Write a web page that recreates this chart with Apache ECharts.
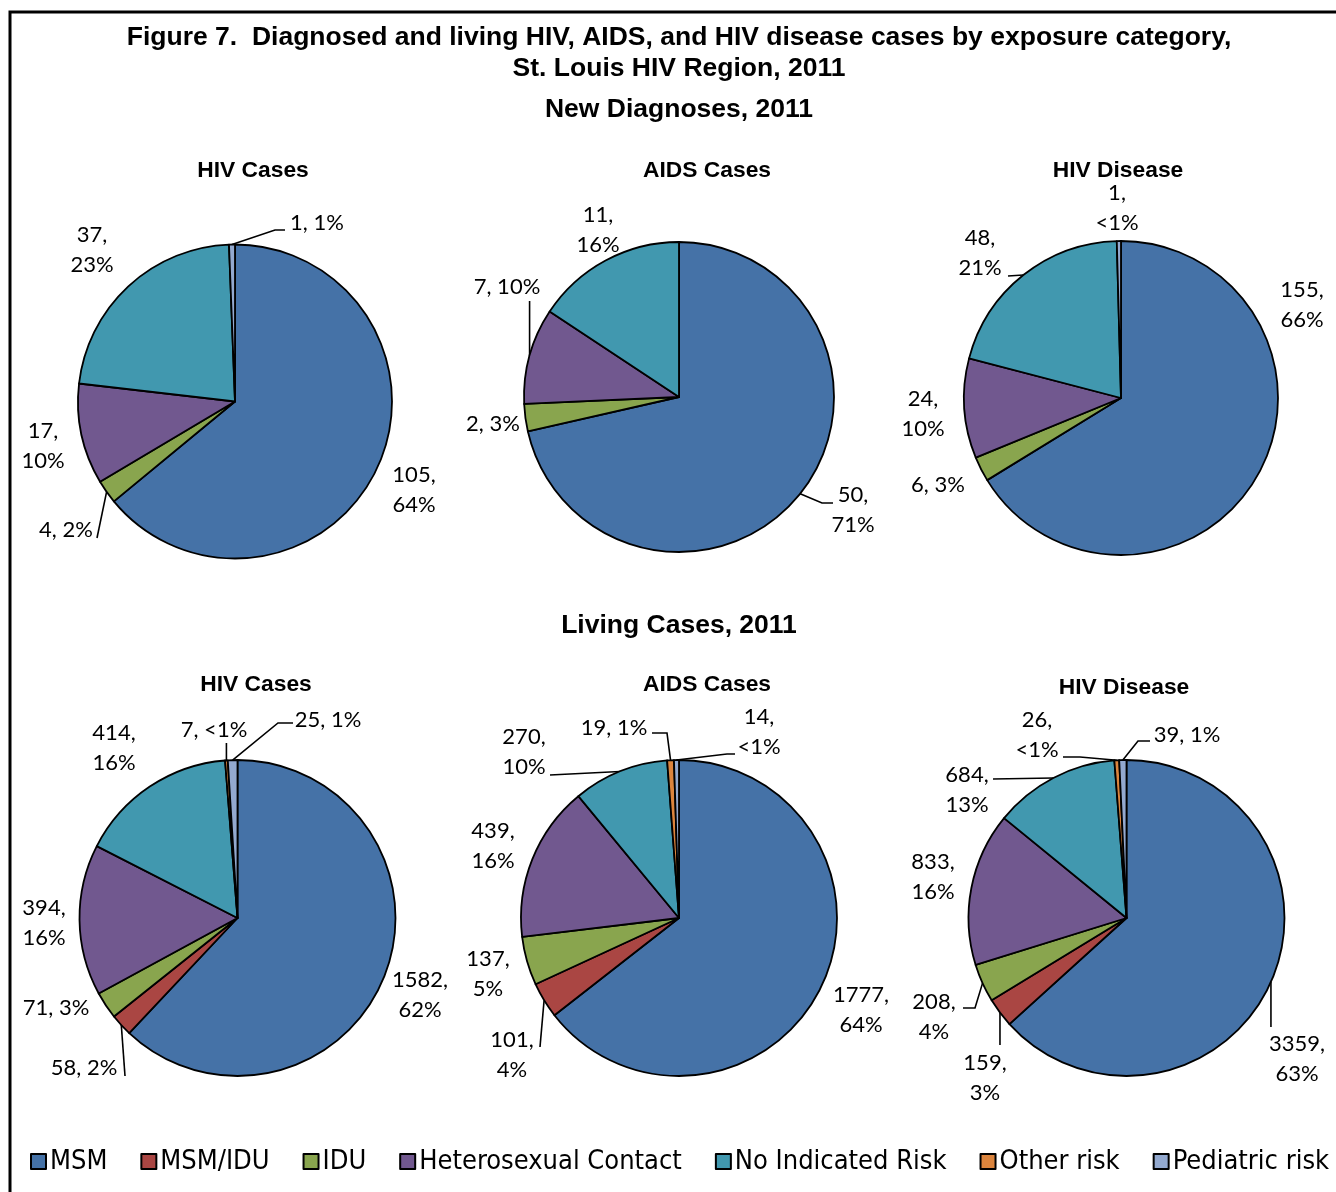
<!DOCTYPE html>
<html>
<head>
<meta charset="utf-8">
<title>Figure 7 - HIV, AIDS and HIV disease cases by exposure category</title>
<script src="https://cdn.jsdelivr.net/npm/echarts@6.0.0/dist/echarts.min.js"></script>
<style>
  html, body { margin: 0; padding: 0; background: #ffffff; }
  #chart { width: 1336px; height: 1192px; }
</style>
</head>
<body>
<div id="chart"></div>
<script>
// Exposure categories and their slice colours
const categories = ['MSM', 'MSM/IDU', 'IDU', 'Heterosexual Contact', 'No Indicated Risk', 'Other risk', 'Pediatric risk'];
const palette = ['#4572A7', '#AA4643', '#89A54E', '#71588F', '#4198AF', '#DB843D', '#93A9CF'];

// New diagnoses, 2011 (counts per category, in the order above)
const newHivCases = [105, 0, 4, 17, 37, 0, 1];
const newHivPct = ['64%', '', '2%', '10%', '23%', '', '1%'];
const newAidsCases = [50, 0, 2, 7, 11, 0, 0];
const newAidsPct = ['71%', '', '3%', '10%', '16%', '', ''];
const newHivDisease = [155, 0, 6, 24, 48, 0, 1];
const newHivDiseasePct = ['66%', '', '3%', '10%', '21%', '', '<1%'];

// Living cases, 2011
const livingHivCases = [1582, 58, 71, 394, 414, 7, 25];
const livingHivPct = ['62%', '2%', '3%', '16%', '16%', '<1%', '1%'];
const livingAidsCases = [1777, 101, 137, 439, 270, 19, 14];
const livingAidsPct = ['64%', '4%', '5%', '16%', '10%', '1%', '<1%'];
const livingHivDisease = [3359, 159, 208, 833, 684, 26, 39];
const livingHivDiseasePct = ['63%', '3%', '4%', '16%', '13%', '<1%', '1%'];

// Text
const mainTitle = 'Figure 7.  Diagnosed and living HIV, AIDS, and HIV disease cases by exposure category,\nSt. Louis HIV Region, 2011';
const sectionTitles = ['New Diagnoses, 2011', 'Living Cases, 2011'];

const TITLE_FONT = '"Liberation Sans", Arial, sans-serif';
const LABEL_FONT = 'Lato, "Open Sans", sans-serif';
const LEGEND_FONT = '"Liberation Sans Narrow", "DejaVu Sans Condensed", "Roboto Condensed", sans-serif';

// Pie placement and label placement (label offsets are relative to the pie centre).
// line.end: where the leader meets the label; null x = straight down/up from the slice.
const pies = [
  { name: 'New HIV Cases', title: 'HIV Cases', values: newHivCases, pct: newHivPct,
    center: [235, 401.5], radius: 157, titleAt: [253, 169],
    labels: {
      0: { at: [179, 88.5], wrap: true },
      2: { at: [-169, 128.5], line: { end: [-138, 136.5] } },
      3: { at: [-192, 44.5], wrap: true },
      4: { at: [-143, -151.5], wrap: true },
      6: { at: [82, -178.5], line: { end: [50, -171.5], elbow: [40, -171.5] } }
    } },
  { name: 'New AIDS Cases', title: 'AIDS Cases', values: newAidsCases, pct: newAidsPct,
    center: [679, 397], radius: 155, titleAt: [707, 169],
    labels: {
      0: { at: [174, 113], wrap: true, line: { end: [154, 106], elbow: [143, 106] } },
      2: { at: [-186, 27] },
      3: { at: [-172, -110], line: { end: [null, -96] } },
      4: { at: [-81, -167], wrap: true }
    } },
  { name: 'New HIV Disease', title: 'HIV Disease', values: newHivDisease, pct: newHivDiseasePct,
    center: [1121, 398], radius: 157, titleAt: [1118, 169],
    labels: {
      0: { at: [181, -93], wrap: true },
      2: { at: [-183, 87] },
      3: { at: [-198, 16], wrap: true },
      4: { at: [-141, -145], wrap: true, line: { end: [-113, -122] } },
      6: { at: [-4, -190], wrap: true }
    } },
  { name: 'Living HIV Cases', title: 'HIV Cases', values: livingHivCases, pct: livingHivPct,
    center: [237.5, 918], radius: 158, titleAt: [256, 683],
    labels: {
      0: { at: [182.5, 77], wrap: true },
      1: { at: [-153.5, 150], line: { end: [-112.5, 158] } },
      2: { at: [-181.5, 90] },
      3: { at: [-193.5, 5], wrap: true },
      4: { at: [-123.5, -170], wrap: true },
      5: { at: [-23.5, -188], line: { end: [null, -175] } },
      6: { at: [90.5, -198], line: { end: [55.5, -195], elbow: [40.5, -195] } }
    } },
  { name: 'Living AIDS Cases', title: 'AIDS Cases', values: livingAidsCases, pct: livingAidsPct,
    center: [679, 918], radius: 158, titleAt: [707, 683],
    labels: {
      0: { at: [182, 92], wrap: true },
      1: { at: [-167, 137], wrap: true, line: { end: [-139, 129] } },
      2: { at: [-191, 56], wrap: true },
      3: { at: [-186, -72], wrap: true },
      4: { at: [-155, -166], wrap: true, line: { end: [-129, -143] } },
      5: { at: [-65, -190], line: { end: [-27, -185], elbow: [-12, -185] } },
      6: { at: [80, -186], wrap: true, line: { end: [56, -164], elbow: [48, -164] } }
    } },
  { name: 'Living HIV Disease', title: 'HIV Disease', values: livingHivDisease, pct: livingHivDiseasePct,
    center: [1126.5, 918], radius: 158, titleAt: [1124, 686],
    labels: {
      0: { at: [170.5, 141], wrap: true, line: { end: [null, 109] } },
      1: { at: [-141.5, 160], wrap: true, line: { end: [null, 127] } },
      2: { at: [-192.5, 99], wrap: true, line: { end: [-163.5, 90], elbow: [-151.5, 90] } },
      3: { at: [-193.5, -41], wrap: true },
      4: { at: [-159.5, -128], wrap: true, line: { end: [-133.5, -139] } },
      5: { at: [-89.5, -183], wrap: true, line: { end: [-63.5, -161], elbow: [-46.5, -161] } },
      6: { at: [60.5, -183], line: { end: [23.5, -177], elbow: [11.5, -177] } }
    } }
];

function buildSeries(p) {
  const catIndex = [];
  const data = [];
  p.values.forEach(function (v, i) {
    if (v > 0) {
      const L = p.labels[i] || {};
      catIndex.push(i);
      data.push({
        name: categories[i],
        value: v,
        itemStyle: { color: palette[i] },
        labelLine: { show: !!L.line }
      });
    }
  });
  return {
    type: 'pie',
    name: p.name,
    center: p.center,
    radius: p.radius,
    startAngle: 90,
    clockwise: true,
    avoidLabelOverlap: false,
    silent: true,
    animation: false,
    itemStyle: { borderColor: '#000000', borderWidth: 1.8 },
    emphasis: { disabled: true },
    label: {
      show: true,
      position: 'outside',
      color: '#000000',
      fontFamily: LABEL_FONT,
      fontSize: 22,
      lineHeight: 30,
      formatter: function (q) {
        const i = catIndex[q.dataIndex];
        const L = p.labels[i] || {};
        return q.value + ',' + (L.wrap ? '\n' : ' ') + p.pct[i];
      }
    },
    labelLine: { show: true, length: 10, length2: 10, lineStyle: { color: '#000000', width: 1.6 } },
    labelLayout: function (q) {
      const i = catIndex[q.dataIndex];
      const L = p.labels[i];
      if (!L) return {};
      const cx = p.center[0], cy = p.center[1];
      const out = { x: cx + L.at[0], y: cy + L.at[1], align: 'center', verticalAlign: 'middle' };
      if (L.line && q.labelLinePoints) {
        const a = q.labelLinePoints[0];
        const ex = L.line.end[0] == null ? a[0] : cx + L.line.end[0];
        const ey = cy + L.line.end[1];
        const mid = L.line.elbow ? [cx + L.line.elbow[0], cy + L.line.elbow[1]] : [ex, ey];
        out.labelLinePoints = [[a[0], a[1]], mid, [ex, ey]];
      }
      return out;
    },
    data: data
  };
}

const titles = [
  { text: mainTitle, left: 679, top: 22, textAlign: 'center', padding: 0,
    textStyle: { fontFamily: TITLE_FONT, fontWeight: 'bold', fontSize: 26.5, lineHeight: 31, color: '#000' } },
  { text: sectionTitles[0], left: 679, top: 95, textAlign: 'center', padding: 0,
    textStyle: { fontFamily: TITLE_FONT, fontWeight: 'bold', fontSize: 26.5, lineHeight: 30, color: '#000' } },
  { text: sectionTitles[1], left: 679, top: 611, textAlign: 'center', padding: 0,
    textStyle: { fontFamily: TITLE_FONT, fontWeight: 'bold', fontSize: 26.5, lineHeight: 30, color: '#000' } }
].concat(pies.map(function (p) {
  return { text: p.title, left: p.titleAt[0], top: p.titleAt[1] - 12, textAlign: 'center', padding: 0,
    textStyle: { fontFamily: TITLE_FONT, fontWeight: 'bold', fontSize: 22.8, lineHeight: 28, color: '#000' } };
}));

const chart = echarts.init(document.getElementById('chart'), null, { renderer: 'canvas' });
chart.setOption({
  backgroundColor: '#ffffff',
  animation: false,
  title: titles,
  legend: {
    data: categories,
    left: 30,
    top: 1148,
    padding: 0,
    icon: 'rect',
    itemWidth: 15,
    itemHeight: 15,
    itemGap: 33,
    selectedMode: false,
    textStyle: { fontFamily: LEGEND_FONT, fontSize: 27, color: '#000', padding: [0, 0, 0, -1] }
  },
  graphic: [{
    type: 'polyline',
    silent: true,
    shape: { points: [[10, 1200], [10, 12], [1340, 12]] },
    style: { stroke: '#000', lineWidth: 3, fill: null }
  }],
  series: pies.map(buildSeries)
});
</script>
</body>
</html>
